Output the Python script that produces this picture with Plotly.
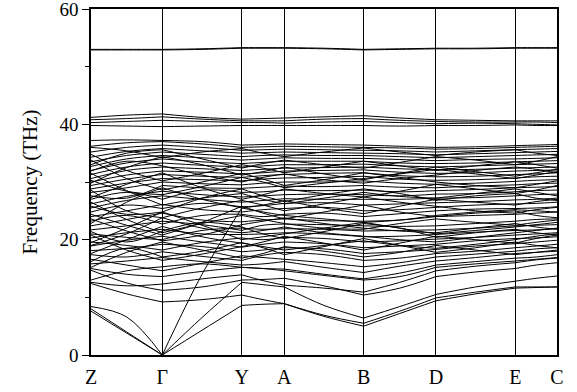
import plotly.graph_objects as go

# high-symmetry k-path positions (fractional path length) and labels
k_labels = ["Z", "Γ", "Y", "A", "B", "D", "E", "C"]
k_pos = [0.0, 0.153, 0.3236, 0.4148, 0.585, 0.7403, 0.9105, 1.0]

# each band: values at Z, mid, Γ, mid, Y, mid, A, mid, B, mid, D, mid, E, mid, C  (THz)
bands = {
    "A1": [8.0, 4.0, 0.0, 4.3, 8.6, 8.8, 8.9, 6.7, 5.0, 7.2, 9.4, 10.6, 11.6, 11.7, 11.8],
    "A2": [7.6, 3.8, 0.0, 6.5, 12.6, 12.2, 11.8, 8.6, 6.4, 8.4, 10.5, 11.8, 12.8, 13.3, 13.7],
    "A3": [8.4, 6.6, 0.0, 14.0, 25.5, 24.8, 24.2, 23.6, 23.0, 23.4, 24.2, 24.8, 25.2, 25.0, 24.8],
    "A4": [12.4, 10.6, 9.2, 9.6, 10.4, 9.6, 8.9, 6.9, 5.5, 7.6, 9.9, 10.9, 11.8, 11.8, 11.8],
    "O1": [14.7, 12.5, 11.2, 11.8, 13.0, 13.1, 13.3, 12.0, 10.4, 11.6, 13.6, 14.4, 15.0, 15.6, 16.0],
    "O2": [12.6, 12.0, 12.3, 13.2, 13.9, 12.9, 12.1, 11.6, 10.9, 12.6, 14.6, 15.4, 16.0, 16.5, 16.8],
    "b01": [15.0, 14.0, 13.6, 14.5, 15.2, 15.0, 14.6, 13.8, 13.0, 13.6, 15.2, 15.8, 16.3, 16.6, 16.9],
    "b02": [13.0, 14.6, 15.3, 15.8, 15.2, 15.0, 14.9, 14.0, 13.2, 14.2, 15.6, 16.2, 16.8, 17.0, 17.4],
    "b03": [15.8, 16.3, 16.9, 16.2, 15.6, 15.8, 16.2, 15.2, 14.3, 15.4, 16.3, 16.9, 17.6, 17.8, 18.0],
    "b04": [16.6, 15.6, 14.6, 15.9, 17.2, 16.9, 16.6, 16.0, 15.3, 16.0, 17.0, 17.5, 18.0, 18.4, 18.6],
    "b05": [17.4, 17.0, 17.9, 17.1, 16.4, 17.3, 17.8, 17.4, 16.4, 16.8, 17.6, 18.0, 18.6, 18.9, 19.2],
    "b06": [18.1, 18.5, 19.2, 18.8, 17.9, 18.2, 18.6, 18.4, 17.6, 17.9, 18.3, 18.9, 19.3, 19.6, 19.9],
    "b07": [18.9, 19.9, 20.6, 19.6, 18.7, 19.2, 19.6, 19.3, 18.6, 18.9, 19.2, 19.8, 20.2, 20.3, 20.5],
    "b08": [19.6, 19.0, 18.2, 19.5, 20.3, 20.0, 20.4, 20.2, 19.6, 19.8, 20.1, 20.4, 20.8, 21.0, 21.2],
    "b09": [20.3, 21.2, 21.8, 21.0, 20.9, 21.0, 21.2, 21.0, 20.5, 20.6, 20.9, 21.3, 21.6, 21.7, 21.9],
    "b10": [21.0, 20.4, 20.0, 21.6, 22.0, 21.8, 21.9, 21.8, 21.5, 21.6, 21.7, 22.0, 22.4, 22.5, 22.6],
    "b11": [21.7, 22.4, 23.2, 22.6, 21.6, 22.5, 22.7, 22.6, 22.4, 22.3, 22.4, 22.8, 23.2, 23.5, 23.6],
    "b12": [22.4, 23.5, 24.6, 23.4, 23.1, 23.4, 23.6, 23.3, 23.2, 23.4, 24.0, 24.2, 24.4, 24.6, 24.8],
    "b13": [23.2, 24.2, 22.7, 24.2, 24.4, 24.0, 24.4, 24.6, 24.0, 24.5, 25.0, 25.3, 25.4, 25.5, 25.7],
    "b14": [24.0, 25.0, 26.1, 25.2, 24.8, 25.2, 25.4, 25.6, 25.0, 25.2, 25.6, 26.0, 26.2, 26.3, 26.5],
    "b15": [24.8, 26.0, 25.4, 26.3, 25.7, 25.9, 26.3, 26.4, 26.0, 26.2, 26.4, 26.6, 26.9, 27.0, 27.2],
    "b16": [25.5, 26.8, 27.6, 27.0, 26.5, 26.8, 27.1, 27.0, 27.0, 27.0, 27.2, 27.3, 27.6, 27.8, 27.9],
    "b17": [26.2, 27.5, 28.4, 27.8, 27.4, 27.6, 27.8, 27.9, 27.8, 27.6, 27.9, 28.0, 28.3, 28.5, 28.6],
    "b18": [27.0, 28.2, 27.0, 28.6, 28.2, 28.3, 28.6, 28.5, 28.6, 28.3, 28.5, 28.7, 29.0, 29.1, 29.2],
    "b19": [27.6, 27.2, 29.4, 29.0, 28.9, 29.1, 29.3, 29.2, 29.4, 29.1, 29.0, 29.3, 29.5, 29.7, 29.8],
    "b20": [28.2, 29.0, 30.0, 29.7, 29.5, 29.8, 30.0, 30.0, 30.2, 29.8, 29.6, 29.8, 30.1, 30.3, 30.4],
    "b21": [28.8, 29.8, 30.6, 30.4, 30.2, 30.5, 30.7, 30.8, 31.0, 30.5, 30.3, 30.4, 30.7, 30.9, 31.0],
    "b22": [29.4, 30.5, 31.3, 31.0, 30.8, 31.1, 31.3, 31.5, 31.6, 31.1, 30.9, 31.0, 31.3, 31.4, 31.6],
    "b23": [30.0, 31.2, 31.9, 31.7, 31.4, 31.6, 31.9, 32.0, 32.1, 31.7, 31.5, 31.6, 31.9, 32.0, 32.1],
    "b24": [30.6, 32.0, 32.6, 32.3, 32.0, 32.2, 32.4, 32.5, 32.6, 32.3, 32.1, 32.2, 32.4, 32.5, 32.6],
    "b25": [31.3, 32.6, 33.3, 32.9, 32.6, 32.8, 33.0, 33.0, 33.1, 32.8, 32.6, 32.8, 33.0, 33.1, 33.2],
    "b26": [32.0, 33.3, 34.0, 33.5, 33.2, 33.4, 33.6, 33.6, 33.6, 33.3, 33.2, 33.3, 33.5, 33.6, 33.7],
    "b27": [32.7, 34.0, 34.6, 34.2, 33.8, 34.0, 34.2, 34.1, 34.1, 33.9, 33.7, 33.9, 34.0, 34.1, 34.2],
    "b28": [33.5, 34.6, 35.2, 34.8, 34.4, 34.6, 34.7, 34.6, 34.6, 34.4, 34.2, 34.4, 34.6, 34.7, 34.8],
    "b29": [34.3, 35.3, 35.8, 35.4, 35.0, 35.1, 35.2, 35.1, 35.0, 34.9, 34.7, 34.9, 35.1, 35.2, 35.3],
    "b30": [35.2, 36.0, 36.4, 36.0, 35.5, 35.6, 35.7, 35.6, 35.5, 35.4, 35.2, 35.4, 35.6, 35.7, 35.8],
    "b31": [36.2, 36.8, 37.0, 36.6, 36.0, 36.1, 36.2, 36.1, 36.0, 35.9, 35.7, 35.8, 36.0, 36.1, 36.2],
    "b32": [37.2, 37.3, 37.2, 37.0, 36.4, 36.5, 36.6, 36.5, 36.4, 36.2, 36.0, 36.1, 36.3, 36.4, 36.5],
    "c01": [19.5, 22.0, 24.8, 22.5, 20.0, 20.5, 21.0, 22.0, 23.0, 22.0, 21.0, 21.6, 22.2, 22.6, 23.0],
    "c02": [26.5, 23.5, 21.2, 22.8, 24.2, 23.5, 22.8, 22.0, 21.8, 22.8, 23.6, 23.0, 22.5, 23.0, 23.4],
    "c03": [22.8, 26.5, 29.0, 27.0, 25.5, 26.0, 26.8, 25.5, 24.5, 25.8, 27.0, 26.5, 26.0, 26.6, 27.0],
    "c04": [31.5, 28.5, 26.0, 27.2, 28.0, 27.0, 26.2, 27.2, 28.2, 27.5, 27.2, 28.0, 28.8, 28.2, 27.6],
    "c05": [17.6, 20.0, 22.3, 20.5, 19.4, 18.8, 18.2, 19.0, 19.8, 19.0, 18.5, 19.2, 20.0, 20.6, 21.0],
    "c06": [28.6, 25.0, 23.8, 25.5, 26.8, 26.0, 25.0, 26.2, 27.4, 26.5, 25.8, 25.0, 24.6, 25.2, 25.6],
    "c07": [34.8, 32.0, 30.2, 31.5, 33.0, 32.4, 31.6, 32.6, 33.6, 32.8, 32.0, 32.8, 33.5, 33.0, 32.4],
    "c08": [23.6, 21.5, 19.8, 20.8, 22.6, 23.2, 23.8, 22.8, 22.0, 21.5, 21.2, 22.0, 22.8, 22.2, 21.8],
    "c09": [29.8, 32.5, 34.4, 33.0, 31.2, 31.8, 32.6, 31.4, 30.4, 31.5, 32.6, 31.8, 31.0, 31.6, 32.2],
    "c10": [15.2, 17.8, 19.6, 18.2, 16.8, 17.6, 18.8, 18.0, 17.0, 17.8, 19.0, 18.2, 17.4, 17.8, 18.2],
    "c11": [20.8, 18.2, 16.4, 17.5, 18.8, 19.6, 20.6, 19.4, 18.2, 19.4, 20.6, 20.0, 19.4, 20.2, 20.8],
    "c12": [33.8, 30.6, 28.6, 30.0, 31.5, 30.5, 29.4, 30.4, 31.6, 30.8, 30.0, 29.4, 29.0, 29.6, 30.2],
    "d01": [16.2, 18.5, 17.0, 18.0, 19.5, 18.6, 17.4, 18.8, 20.2, 19.0, 17.8, 18.6, 19.6, 19.0, 18.6],
    "d02": [21.4, 19.6, 21.5, 23.0, 22.2, 21.0, 20.2, 21.4, 22.8, 22.0, 20.4, 21.2, 21.8, 21.2, 20.8],
    "d03": [24.4, 22.5, 20.8, 23.0, 25.8, 24.6, 23.6, 24.8, 26.0, 24.8, 24.0, 24.6, 25.0, 24.2, 23.8],
    "d04": [27.3, 29.6, 31.6, 29.0, 27.0, 27.8, 28.8, 28.0, 27.4, 28.4, 29.6, 28.8, 28.0, 28.6, 29.4],
    "d05": [30.3, 28.4, 27.8, 29.2, 30.8, 30.0, 29.0, 29.8, 30.6, 31.4, 32.2, 31.4, 30.6, 31.2, 31.8],
    "d06": [33.0, 35.0, 35.6, 34.0, 32.4, 33.2, 33.8, 33.0, 32.4, 33.4, 34.4, 33.8, 33.0, 33.6, 34.4],
    "d07": [36.0, 35.4, 34.2, 35.2, 35.8, 35.0, 34.4, 35.2, 35.9, 35.2, 34.6, 35.2, 35.6, 35.0, 34.6],
    "d08": [19.0, 21.0, 23.8, 22.0, 21.2, 21.6, 22.2, 21.2, 20.6, 20.0, 19.6, 20.4, 21.2, 21.6, 22.0],
    "d09": [25.8, 24.4, 24.8, 27.2, 28.8, 27.6, 26.6, 27.8, 28.8, 28.0, 26.8, 27.6, 28.0, 27.2, 26.8],
    "d10": [31.9, 33.6, 32.8, 31.2, 30.0, 30.8, 31.4, 30.4, 29.8, 30.6, 31.2, 32.0, 32.6, 32.2, 31.6],
    "t1": [41.2, 41.6, 41.8, 41.2, 40.9, 41.0, 41.1, 41.3, 41.5, 41.1, 40.8, 40.7, 40.6, 40.6, 40.6],
    "t2": [40.8, 41.0, 41.3, 40.9, 40.6, 40.6, 40.6, 40.9, 41.0, 40.7, 40.5, 40.4, 40.4, 40.4, 40.3],
    "t3": [39.8, 39.7, 39.6, 39.7, 39.8, 39.8, 39.8, 39.8, 39.8, 39.7, 39.8, 39.8, 39.9, 39.8, 39.8],
    "t4": [40.3, 40.5, 40.7, 40.5, 40.3, 40.3, 40.2, 40.4, 40.5, 40.3, 40.1, 40.2, 40.1, 40.0, 39.9],
    "h1": [53.0, 53.0, 53.0, 53.1, 53.3, 53.3, 53.3, 53.2, 53.0, 53.1, 53.2, 53.2, 53.3, 53.3, 53.3],
    "h2": [52.9, 52.9, 52.9, 53.0, 53.2, 53.2, 53.2, 53.1, 52.9, 53.0, 53.1, 53.1, 53.2, 53.2, 53.2],
}

y_ticks = [0, 20, 40, 60]

fig = go.Figure()
for name, vals in bands.items():
    xs, ys = [], []
    for i in range(len(k_pos) - 1):
        a, b = k_pos[i], k_pos[i + 1]
        xs += [a, (a + b) / 2, b, None]
        ys += [vals[2 * i], vals[2 * i + 1], vals[2 * i + 2], None]
    fig.add_trace(go.Scatter(x=xs, y=ys, mode="lines",
                             line=dict(color="black", width=1, shape="spline", smoothing=1),
                             hoverinfo="skip", showlegend=False, connectgaps=False))

font = "Liberation Serif"
fig.update_layout(
    template="none",
    width=577, height=392,
    margin=dict(l=91, r=20, t=9, b=37),
    plot_bgcolor="white", paper_bgcolor="white",
    font=dict(family=font, size=19, color="black"),
    xaxis=dict(range=[k_pos[0], k_pos[-1]], tickvals=k_pos, ticktext=k_labels,
               showgrid=True, gridcolor="black", gridwidth=1.3, automargin=False,
               showline=True, linecolor="black", linewidth=1.5, mirror=True,
               ticks="outside", ticklen=3, tickcolor="white",
               tickfont=dict(family=font, size=20, color="black"), zeroline=False),
    yaxis=dict(range=[-0.0001, 60.0001], tickvals=y_ticks, showgrid=False, automargin=False,
               showline=True, linecolor="black", linewidth=1.5, mirror=True,
               ticks="outside", ticklen=7, tickwidth=1.3, tickcolor="black",
               ticklabeloverflow="allow",
               minor=dict(dtick=10, ticks="outside", ticklen=4, tickcolor="black", tickwidth=1.2),
               tickfont=dict(family=font, size=19, color="black"),
               title=dict(text="Frequency (THz)", font=dict(family=font, size=21, color="black"), standoff=16),
               zeroline=False),
)
fig.write_html("out.html", config={"displayModeBar": False},
               post_script="document.body.style.margin='0';")
